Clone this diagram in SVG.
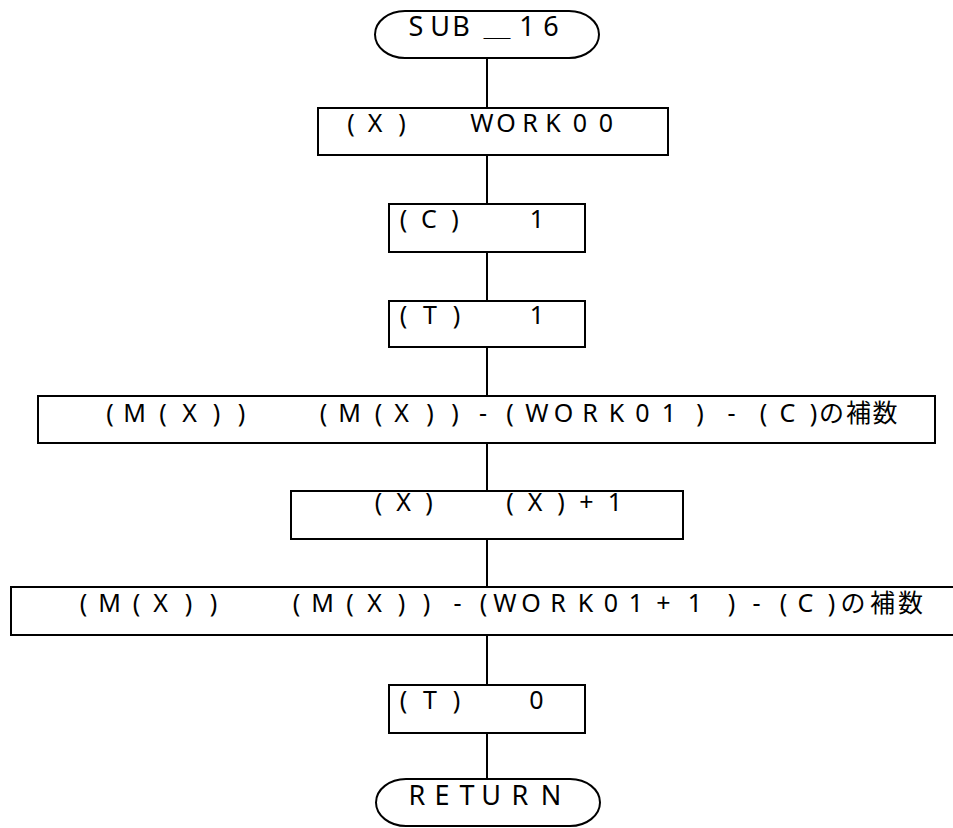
<svg xmlns="http://www.w3.org/2000/svg" width="953" height="828" viewBox="0 0 953 828">
<style>
.shape{fill:#fff;stroke:#000;stroke-width:2}
.conn{stroke:#000;stroke-width:2;fill:none}
.t{font-family:"Noto Sans","Noto Sans CJK JP",sans-serif;font-size:25px;fill:#000;text-anchor:middle;white-space:pre}
.tt{font-family:"Noto Sans","Noto Sans CJK JP",sans-serif;font-size:27px;fill:#000;text-anchor:middle;white-space:pre}
</style>
<rect width="953" height="828" fill="#fff"/>
<g id="connectors">
<line class="conn" x1="487" y1="58" x2="487" y2="108"/>
<line class="conn" x1="487" y1="155" x2="487" y2="204"/>
<line class="conn" x1="487" y1="252" x2="487" y2="301"/>
<line class="conn" x1="487" y1="347" x2="487" y2="396"/>
<line class="conn" x1="487" y1="443" x2="487" y2="491"/>
<line class="conn" x1="487" y1="539" x2="487" y2="587"/>
<line class="conn" x1="487" y1="635" x2="487" y2="685"/>
<line class="conn" x1="487" y1="733" x2="487" y2="779"/>
</g>
<g id="start">
<rect class="shape" x="375" y="11" width="224" height="47" rx="30" ry="23.5"/>
<text class="tt" x="416 440 461 497 527 551" y="36">SUB＿16</text>
</g>
<g id="box1">
<rect class="shape" x="318" y="108" width="350" height="47"/>
<text class="t" xml:space="preserve" x="351 375 402 428 455 482 506 530 553 580 606" y="132">(X)  WORK00</text>
</g>
<g id="box2">
<rect class="shape" x="389" y="204" width="196" height="48"/>
<text class="t" xml:space="preserve" x="403.5 429 455 481 507 537" y="228">(C)  1</text>
</g>
<g id="box3">
<rect class="shape" x="389" y="301" width="196" height="46"/>
<text class="t" xml:space="preserve" x="403.5 430 456.5 483 510 537" y="324">(T)  1</text>
</g>
<g id="box4">
<rect class="shape" x="38" y="396" width="897" height="47"/>
<text class="t" xml:space="preserve" x="110 134.5 163 189.5 216.5 241.5 268 296 323.5 349.5 378.5 401.5 430 455 483 510 537 563.5 590 616.5 642.5 669 700 731.5 763.5 787.5 813.5 831.5 858.5 885" y="422">(M(X))  (M(X))-(WORK01)-(C)の補数</text>
</g>
<g id="box5">
<rect class="shape" x="291" y="491" width="392" height="48"/>
<text class="t" xml:space="preserve" x="378.5 403.5 429 456 483 510 535 561 586.5 615" y="511">(X)  (X)+1</text>
</g>
<g id="box6">
<rect class="shape" x="11" y="587" width="960" height="48"/>
<text class="t" xml:space="preserve" x="83.5 109.5 136.5 160.5 188.5 213.5 241 269 296.5 322.5 350 374.5 401.5 426.5 457.5 483.5 505 531 558 585.5 611 636 663.5 695 731.5 756.5 783.5 805.5 831.5 853 882.5 910.5" y="612">(M(X))  (M(X))-(WORK01+1)-(C)の補数</text>
</g>
<g id="box7">
<rect class="shape" x="389" y="685" width="196" height="48"/>
<text class="t" xml:space="preserve" x="403.5 430 456.5 483 510 536.5" y="709">(T)  0</text>
</g>
<g id="end">
<rect class="shape" x="376" y="779" width="224" height="47" rx="30" ry="23.5"/>
<text class="tt" x="417 442 467 491 520 551" y="805">RETURN</text>
</g>
</svg>
